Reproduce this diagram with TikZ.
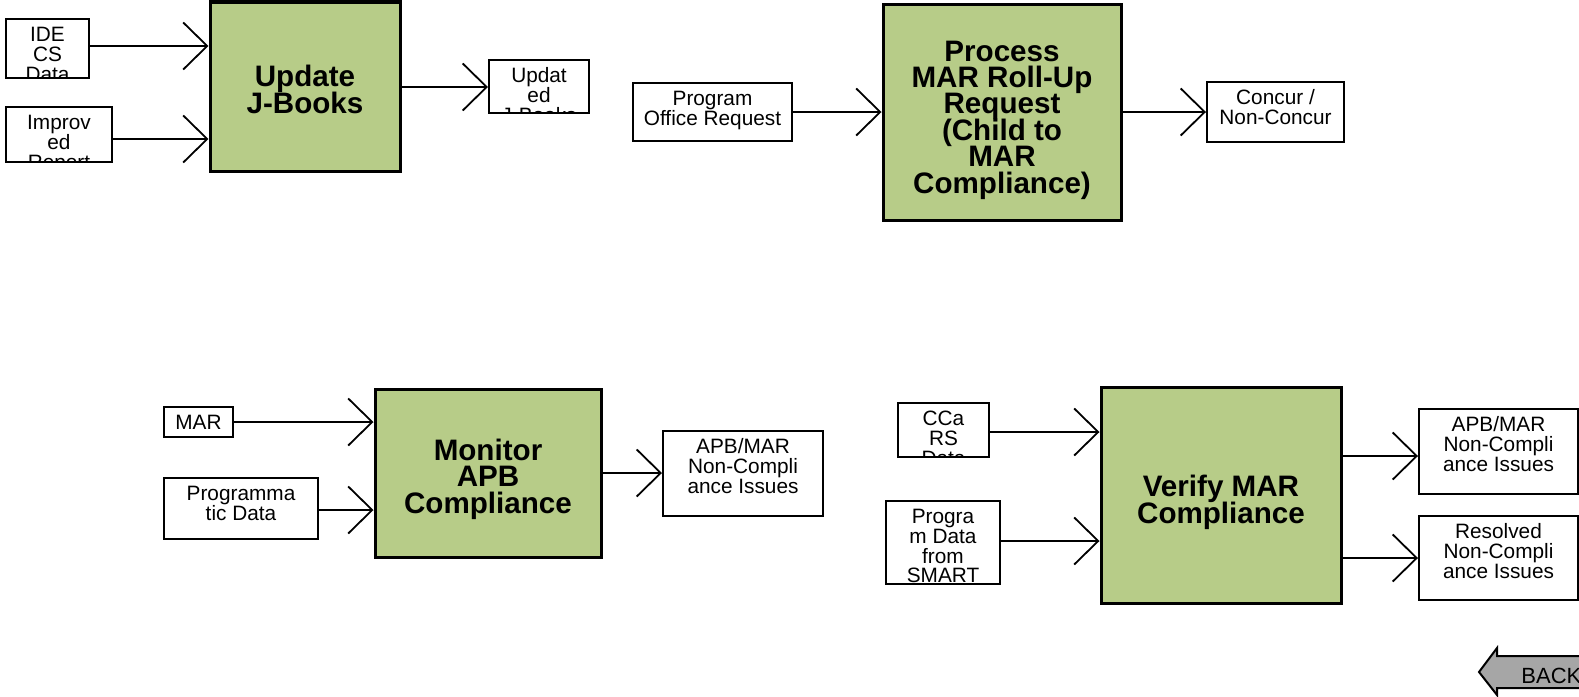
\documentclass[tikz,border=0pt]{standalone}
\usepackage{fontspec}
\setmainfont{Liberation Sans}
\usetikzlibrary{arrows.meta,fit,calc}
\definecolor{boxgreen}{RGB}{183,204,136}
\definecolor{backgray}{RGB}{166,166,166}
\newcommand\smallfnt{\fontsize{10.4}{9.8}\selectfont\lineskiplimit=-20pt\relax\lineskip=0pt\relax}
\newcommand\mainfnt{\bfseries\fontsize{14.8}{13.2}\selectfont\lineskiplimit=-20pt\relax\lineskip=0pt\relax}
\newcommand\firststrut{\vrule height 8pt depth 0pt width 0pt\relax}
\tikzset{
  sbox/.style={draw=black, line width=1pt, inner sep=0pt},
  stxt/.style={align=center, inner sep=0pt, font=\smallfnt},
  mbox/.style={draw=black, line width=1.5pt, fill=boxgreen, inner sep=0pt},
  mtxt/.style={align=center, inner sep=0pt, font=\mainfnt},
  flow/.style={line width=0.9pt, -{Straight Barb[length=12pt,width=23.5pt]}},
  backarrow/.style={draw=black, line width=1pt, fill=backgray},
}
% name, x1, y1, x2, y2, text
\newcommand\smallbox[6]{%
  \begin{scope}
    \clip (#2,#3) rectangle (#4,#5);
    \node[stxt, anchor=north] (#1-t) at ({(#2+#4)/2},{#3+6.4}) {\firststrut#6};
  \end{scope}
  \node[sbox, fit={(#2,#3)(#4,#5)}] (#1) {};
}
\begin{document}
\begin{tikzpicture}[x=0.5pt,y=-0.5pt]
\useasboundingbox (0,0) rectangle (1579,696);
\clip (0,0) rectangle (1579,696);

% ---------- Update J-Books ----------
\smallbox{ide}{6}{19}{89}{78}{IDE\\CS\\Data}
\smallbox{imp}{6}{107}{112}{162}{Improv\\ed\\Report}
\node[mbox, fit={(210,2)(400,171)}] (upd) {};
\node[mtxt, anchor=base] (upd-t) at (upd.center |- 0,113) {Update\\J-Books};
\smallbox{updjb}{489}{60}{589}{113}{Updat\\ed\\J-Books}
\draw[flow] (ide.east |- 0,46) -- (upd.west |- 0,46);
\draw[flow] (imp.east |- 0,139) -- (upd.west |- 0,139);
\draw[flow] (upd.east |- 0,87) -- (updjb.west |- 0,87);

% ---------- Process MAR Roll-Up ----------
\smallbox{por}{633}{83}{792}{141}{Program\\Office Request}
\node[mbox, fit={(883,4)(1121,220)}] (proc) {};
\node[mtxt, anchor=base] (proc-t) at (proc.center |- 0,193) {Process\\MAR Roll-Up\\Request\\(Child to\\MAR\\Compliance)};
\smallbox{conc}{1207}{82}{1344}{142}{Concur /\\Non-Concur}
\draw[flow] (por.east |- 0,112) -- (proc.west |- 0,112);
\draw[flow] (proc.east |- 0,112) -- (conc.west |- 0,112);

% ---------- Monitor APB Compliance ----------
\smallbox{mar}{164}{407}{233}{437}{MAR}
\smallbox{pgd}{164}{478}{318}{539}{Programma\\tic Data}
\node[mbox, fit={(375,389)(601,557)}] (mon) {};
\node[mtxt, anchor=base] (mon-t) at (mon.center |- 0,513) {Monitor\\APB\\Compliance};
\smallbox{apbl}{663}{431}{823}{516}{APB/MAR\\Non-Compli\\ance Issues}
\draw[flow] (mar.east |- 0,422) -- (mon.west |- 0,422);
\draw[flow] (pgd.east |- 0,510) -- (mon.west |- 0,510);
\draw[flow] (mon.east |- 0,473) -- (apbl.west |- 0,473);

% ---------- Verify MAR Compliance ----------
\smallbox{ccars}{898}{403}{989}{457}{CCa\\RS\\Data}
\smallbox{smart}{886}{501}{1000}{584}{Progra\\m Data\\from\\SMART}
\node[mbox, fit={(1101,387)(1341,603)}] (ver) {};
\node[mtxt, anchor=base] (ver-t) at (ver.center |- 0,523) {Verify MAR\\Compliance};
\smallbox{apbr}{1419}{409}{1578}{494}{APB/MAR\\Non-Compli\\ance Issues}
\smallbox{res}{1419}{516}{1578}{600}{Resolved\\Non-Compli\\ance Issues}
\draw[flow] (ccars.east |- 0,432) -- (ver.west |- 0,432);
\draw[flow] (smart.east |- 0,541) -- (ver.west |- 0,541);
\draw[flow] (ver.east |- 0,456) -- (apbr.west |- 0,456);
\draw[flow] (ver.east |- 0,558) -- (res.west |- 0,558);

% ---------- BACK button ----------
\draw[backarrow] (1479,672) -- (1497,648) -- (1497,656) -- (1590,656)
  -- (1590,688) -- (1497,688) -- (1497,695) -- cycle;
\node[anchor=base west, inner sep=0pt, font=\fontsize{11}{11}\selectfont] (back) at (1521,683) {BACK};
\end{tikzpicture}
\end{document}
